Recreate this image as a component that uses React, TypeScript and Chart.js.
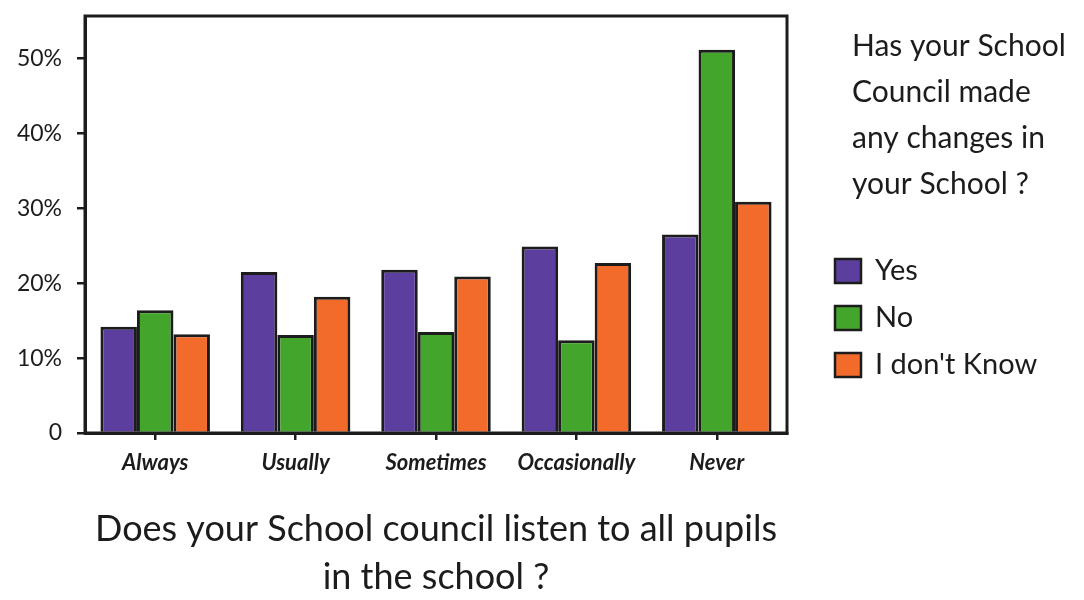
import React, { useEffect, useRef } from "react";
import { Chart, registerables } from "chart.js";

Chart.register(...registerables);

const categories = ["Always", "Usually", "Sometimes", "Occasionally", "Never"];
const seriesNames = ["Yes", "No", "I don't Know"];
const yesValues = [14.2, 21.5, 21.8, 24.9, 26.5];
const noValues = [16.4, 13.1, 13.5, 12.4, 51.2];
const dontKnowValues = [13.2, 18.2, 20.9, 22.7, 30.9];
const seriesColors = ["#5b3e9e", "#43a52c", "#f26b2b"];
const yTickValues = [0, 10, 20, 30, 40, 50];
const yMax = 55.7;
const xAxisTitle = ["Does your School council listen to all pupils", "in the school ?"];
const legendTitle = ["Has your School", "Council made", "any changes in", "your School ?"];

const INK = "#1c1c1c";
const FONT = "Lato, 'Open Sans', sans-serif";

const framePlugin = {
  id: "frame",
  afterDatasetsDraw(chart: any) {
    const { ctx, chartArea } = chart;
    const { left, top, right, bottom } = chartArea;
    ctx.save();
    ctx.strokeStyle = INK;
    ctx.lineWidth = 3;
    ctx.strokeRect(left, top, right - left, bottom - top);
    ctx.restore();
  },
};

const sideLegendPlugin = {
  id: "sideLegend",
  afterDraw(chart: any) {
    const { ctx, chartArea } = chart;
    const x0 = chartArea.right + 65;
    ctx.save();
    ctx.fillStyle = INK;
    ctx.textBaseline = "middle";
    ctx.textAlign = "left";
    ctx.font = `30px ${FONT}`;
    legendTitle.forEach((line, i) => {
      ctx.fillText(line, x0, 38 + i * 46);
    });
    const bx = chartArea.right + 48;
    chart.data.datasets.forEach((ds: any, i: number) => {
      const cy = 263 + i * 47;
      ctx.fillStyle = ds.backgroundColor;
      ctx.fillRect(bx, cy - 12, 26, 24);
      ctx.strokeStyle = INK;
      ctx.lineWidth = 2.5;
      ctx.strokeRect(bx, cy - 12, 26, 24);
      ctx.fillStyle = INK;
      ctx.font = `29px ${FONT}`;
      ctx.fillText(ds.label, bx + 40, cy);
    });
    ctx.restore();
  },
};

export default function App() {
  const ref = useRef<HTMLCanvasElement | null>(null);
  useEffect(() => {
    if (!ref.current) return;
    const seriesValues = [yesValues, noValues, dontKnowValues];
    const chart = new Chart(ref.current, {
      type: "bar",
      data: {
        labels: categories,
        datasets: seriesNames.map((name, i) => ({
          label: name,
          data: seriesValues[i],
          backgroundColor: seriesColors[i],
          borderColor: INK,
          borderWidth: 3,
          barPercentage: 1,
          categoryPercentage: 0.78,
        })),
      },
      options: {
        responsive: false,
        animation: false,
        layout: { padding: { left: 0, right: 289, top: 8, bottom: 0 } },
        plugins: {
          legend: { display: false },
          tooltip: { enabled: false },
          title: { display: false },
        },
        scales: {
          x: {
            grid: {
              offset: false,
              drawOnChartArea: false,
              drawTicks: true,
              tickLength: 7,
              color: INK,
              lineWidth: 2.5,
            },
            border: { display: true, color: INK, width: 3 },
            ticks: {
              color: INK,
              padding: 10,
              maxRotation: 0,
              autoSkip: false,
              font: { family: FONT, size: 22, style: "italic", weight: "bold" },
            },
            title: {
              display: true,
              text: xAxisTitle,
              color: INK,
              font: { family: FONT, size: 36, lineHeight: 1.35 },
              padding: { top: 0, bottom: -10 },
            },
            afterFit(scale: any) {
              scale.height = 159;
              scale.paddingLeft = 0;
              scale.paddingRight = 0;
            },
          },
          y: {
            min: 0,
            max: yMax,
            afterBuildTicks(scale: any) {
              scale.ticks = yTickValues.map((v) => ({ value: v }));
            },
            grid: {
              drawOnChartArea: false,
              drawTicks: true,
              tickLength: 8,
              color: INK,
              lineWidth: 2.5,
            },
            border: { display: true, color: INK, width: 3 },
            ticks: {
              color: INK,
              padding: 15,
              font: { family: FONT, size: 23 },
              callback: (v: any) => (Number(v) === 0 ? "0" : `${v}%`),
            },
            afterFit(scale: any) {
              scale.width = 77;
              scale.paddingTop = 0;
              scale.paddingBottom = 0;
            },
          },
        },
      },
      plugins: [framePlugin, sideLegendPlugin],
    });
    return () => chart.destroy();
  }, []);
  return (
    <canvas
      ref={ref}
      width={1068}
      height={584}
      style={{ display: "block", width: 1068, height: 584 }}
    />
  );
}
